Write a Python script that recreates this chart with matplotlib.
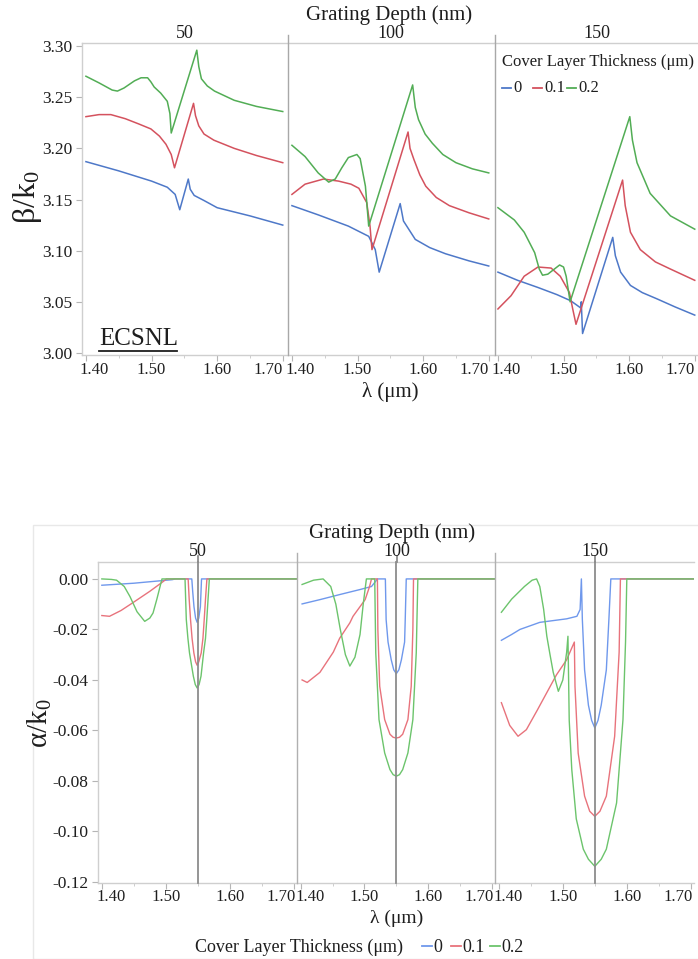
import matplotlib
matplotlib.use("Agg")
import matplotlib.pyplot as plt
from matplotlib.lines import Line2D
from matplotlib.patches import Rectangle
import matplotlib.transforms as mtransforms

plt.rcParams['font.family'] = ['Liberation Serif', 'DejaVu Serif']
plt.rcParams['mathtext.fontset'] = 'custom'
plt.rcParams['mathtext.rm'] = 'Liberation Serif'

W, H = 698, 959

depths = ["50", "100", "150"]
thickness = ["0", "0.1", "0.2"]
xticks = [1.40, 1.50, 1.60, 1.70]
xtick_labels = ["1.40", "1.50", "1.60", "1.70"]
beta_ticks = [3.00, 3.05, 3.10, 3.15, 3.20, 3.25, 3.30]
beta_tick_labels = ["3.00", "3.05", "3.10", "3.15", "3.20", "3.25", "3.30"]
alpha_ticks = [-0.12, -0.10, -0.08, -0.06, -0.04, -0.02, 0.00]
alpha_tick_labels = ["-0.12", "-0.10", "-0.08", "-0.06", "-0.04", "-0.02", "0.00"]

# ---- beta/k0 (top chart), per grating depth, per cover layer thickness (0, 0.1, 0.2)
beta_x = {
    "50": [
        [1.400, 1.450, 1.500, 1.524, 1.536, 1.543, 1.556, 1.559, 1.565, 1.580, 1.600, 1.650, 1.700],
        [1.400, 1.420, 1.438, 1.460, 1.480, 1.499, 1.512, 1.522, 1.530, 1.535, 1.564, 1.567, 1.572,
         1.580, 1.595, 1.626, 1.660, 1.700],
        [1.400, 1.420, 1.440, 1.448, 1.458, 1.474, 1.484, 1.494, 1.499, 1.504, 1.514, 1.524, 1.528,
         1.530, 1.569, 1.572, 1.576, 1.585, 1.596, 1.626, 1.660, 1.700],
    ],
    "100": [
        [1.400, 1.440, 1.486, 1.517, 1.527, 1.533, 1.565, 1.570, 1.588, 1.610, 1.634, 1.670, 1.700],
        [1.400, 1.420, 1.448, 1.471, 1.490, 1.502, 1.514, 1.519, 1.522, 1.577, 1.580, 1.586, 1.595,
         1.604, 1.620, 1.640, 1.670, 1.700],
        [1.400, 1.420, 1.440, 1.456, 1.466, 1.476, 1.486, 1.499, 1.504, 1.512, 1.517, 1.584, 1.588,
         1.593, 1.603, 1.614, 1.630, 1.650, 1.675, 1.700],
    ],
    "150": [
        [1.400, 1.430, 1.461, 1.490, 1.511, 1.524, 1.526, 1.527, 1.529, 1.575, 1.579, 1.587, 1.602,
         1.620, 1.642, 1.670, 1.700],
        [1.400, 1.420, 1.440, 1.461, 1.481, 1.495, 1.509, 1.514, 1.519, 1.590, 1.594, 1.602, 1.617,
         1.640, 1.663, 1.700],
        [1.400, 1.425, 1.440, 1.456, 1.463, 1.468, 1.476, 1.486, 1.494, 1.500, 1.504, 1.510, 1.601,
         1.605, 1.612, 1.632, 1.663, 1.700],
    ],
}
beta_y = {
    "50": [
        [3.187, 3.178, 3.168, 3.162, 3.155, 3.140, 3.170, 3.160, 3.154, 3.149, 3.142, 3.134, 3.125],
        [3.231, 3.233, 3.233, 3.229, 3.224, 3.219, 3.212, 3.204, 3.194, 3.181, 3.244, 3.232, 3.222,
         3.214, 3.208, 3.200, 3.193, 3.186],
        [3.2705, 3.264, 3.257, 3.256, 3.259, 3.266, 3.269, 3.269, 3.265, 3.260, 3.254, 3.246, 3.234,
         3.215, 3.296, 3.280, 3.268, 3.261, 3.256, 3.247, 3.241, 3.236],
    ],
    "100": [
        [3.144, 3.135, 3.124, 3.114, 3.101, 3.079, 3.146, 3.129, 3.111, 3.103, 3.097, 3.090, 3.085],
        [3.155, 3.165, 3.170, 3.168, 3.165, 3.161, 3.147, 3.124, 3.101, 3.216, 3.200, 3.189, 3.174,
         3.163, 3.152, 3.144, 3.137, 3.131],
        [3.203, 3.192, 3.176, 3.167, 3.170, 3.181, 3.191, 3.194, 3.190, 3.163, 3.124, 3.262, 3.240,
         3.228, 3.214, 3.205, 3.194, 3.186, 3.180, 3.176],
    ],
    "150": [
        [3.079, 3.071, 3.064, 3.057, 3.051, 3.045, 3.044, 3.050, 3.019, 3.113, 3.095, 3.079, 3.066,
         3.059, 3.053, 3.045, 3.037],
        [3.043, 3.056, 3.075, 3.084, 3.083, 3.075, 3.059, 3.043, 3.028, 3.169, 3.144, 3.118, 3.101,
         3.089, 3.082, 3.071],
        [3.142, 3.130, 3.118, 3.098, 3.082, 3.076, 3.077, 3.082, 3.086, 3.084, 3.075, 3.050, 3.231,
         3.208, 3.186, 3.156, 3.134, 3.121],
    ],
}

# ---- alpha/k0 (bottom chart)
alpha_x = {
    "50": [
        [1.400, 1.450, 1.510, 1.515, 1.5406, 1.542, 1.544, 1.5465, 1.549, 1.5515, 1.554, 1.555,
         1.5558, 1.705],
        [1.400, 1.412, 1.430, 1.448, 1.475, 1.495, 1.501, 1.5349, 1.5365, 1.5386, 1.541, 1.5438,
         1.5465, 1.549, 1.5515, 1.5553, 1.558, 1.560, 1.562, 1.5642, 1.705],
        [1.400, 1.415, 1.423, 1.435, 1.444, 1.455, 1.467, 1.475, 1.480, 1.486, 1.491, 1.494, 1.530,
         1.531, 1.532, 1.5345, 1.537, 1.543, 1.546, 1.549, 1.552, 1.555, 1.559, 1.562, 1.564,
         1.566, 1.568, 1.705],
    ],
    "100": [
        [1.402, 1.430, 1.461, 1.493, 1.511, 1.518, 1.520, 1.5328, 1.534, 1.537, 1.542, 1.546,
         1.550, 1.554, 1.558, 1.563, 1.564, 1.5656, 1.705],
        [1.402, 1.410, 1.430, 1.451, 1.461, 1.477, 1.482, 1.501, 1.508, 1.511, 1.5203, 1.521,
         1.5239, 1.5317, 1.540, 1.545, 1.550, 1.555, 1.560, 1.5682, 1.5734, 1.576, 1.577, 1.705],
        [1.402, 1.420, 1.435, 1.447, 1.455, 1.462, 1.470, 1.477, 1.485, 1.493, 1.498, 1.503, 1.5161,
         1.5177, 1.5228, 1.5317, 1.540, 1.545, 1.550, 1.555, 1.560, 1.5682, 1.576, 1.5813, 1.5838,
         1.705],
    ],
    "150": [
        [1.404, 1.420, 1.433, 1.464, 1.506, 1.522, 1.527, 1.529, 1.5305, 1.534, 1.540, 1.545, 1.550,
         1.555, 1.560, 1.568, 1.572, 1.575, 1.705],
        [1.404, 1.417, 1.430, 1.443, 1.460, 1.475, 1.490, 1.506, 1.518, 1.519, 1.524, 1.534, 1.542,
         1.550, 1.558, 1.568, 1.581, 1.588, 1.590, 1.705],
        [1.404, 1.420, 1.440, 1.452, 1.459, 1.464, 1.470, 1.475, 1.480, 1.485, 1.493, 1.500, 1.506,
         1.508, 1.510, 1.514, 1.521, 1.532, 1.540, 1.550, 1.560, 1.568, 1.584, 1.594, 1.598, 1.600,
         1.705],
    ],
}
alpha_y = {
    "50": [
        [-0.0025, -0.0017, -0.0003, 0.0, 0.0, -0.005, -0.011, -0.0155, -0.0172, -0.0155, -0.011,
         -0.005, 0.0, 0.0],
        [-0.0145, -0.0148, -0.0125, -0.0095, -0.0049, -0.0012, 0.0, 0.0, -0.008, -0.0161, -0.0235,
         -0.0293, -0.0328, -0.0342, -0.0328, -0.0293, -0.0235, -0.0161, -0.008, 0.0, 0.0],
        [0.0, -0.0002, -0.0005, -0.003, -0.007, -0.013, -0.0168, -0.0155, -0.0135, -0.008, -0.003,
         0.0, 0.0, -0.008, -0.0161, -0.0235, -0.0293, -0.0385, -0.0418, -0.0432, -0.0418, -0.0385,
         -0.0293, -0.0235, -0.0161, -0.008, 0.0, 0.0],
    ],
    "100": [
        [-0.0099, -0.0082, -0.0062, -0.0042, -0.003, -0.0008, 0.0, 0.0, -0.0161, -0.025, -0.032,
         -0.036, -0.0375, -0.036, -0.032, -0.025, -0.0161, 0.0, 0.0],
        [-0.040, -0.041, -0.037, -0.029, -0.0235, -0.0174, -0.0148, -0.0082, -0.003, 0.0, 0.0,
         -0.020, -0.0425, -0.0557, -0.0615, -0.0627, -0.063, -0.0627, -0.0615, -0.0557, -0.0425,
         -0.020, 0.0, 0.0],
        [-0.0022, -0.0005, 0.0, -0.003, -0.010, -0.020, -0.030, -0.0345, -0.031, -0.022, -0.010,
         0.0, 0.0, -0.0293, -0.0557, -0.0689, -0.0755, -0.0775, -0.0781, -0.0775, -0.0755, -0.0689,
         -0.0557, -0.0293, 0.0, 0.0],
    ],
    "150": [
        [-0.0243, -0.022, -0.020, -0.0172, -0.0158, -0.0148, -0.0121, 0.0, -0.016, -0.036, -0.050,
         -0.056, -0.059, -0.056, -0.050, -0.036, -0.016, 0.0, 0.0],
        [-0.049, -0.058, -0.0623, -0.0597, -0.052, -0.045, -0.038, -0.032, -0.025, -0.0425, -0.069,
         -0.086, -0.092, -0.094, -0.092, -0.086, -0.0623, -0.029, 0.0, 0.0],
        [-0.0132, -0.008, -0.003, -0.0005, 0.0, -0.003, -0.012, -0.0227, -0.030, -0.037, -0.0445,
         -0.040, -0.029, -0.0227, -0.056, -0.0755, -0.095, -0.107, -0.111, -0.1138, -0.111, -0.107,
         -0.0887, -0.0557, -0.025, 0.0, 0.0],
    ],
}

top_colors = ['#4e78c8', '#d4525e', '#52ad55']
bot_colors = ['#6f98ec', '#e8737c', '#6cc46c']
txt = '#1e1e1e'
grid_gray = '#cfcfcf'

fig = plt.figure(figsize=(W / 100, H / 100), dpi=100)


def fx(x):
    return x / W


def fy(y):
    return 1 - y / H


def add_panel(x0, x1, y0, y1):
    return fig.add_axes([fx(x0), fy(y1), (x1 - x0) / W, (y1 - y0) / H])


def fig_line(x0, y0, x1, y1, color, lw):
    fig.add_artist(Line2D([fx(x0), fx(x1)], [fy(y0), fy(y1)], transform=fig.transFigure,
                          color=color, lw=lw))


def style_panel(ax, first, xlim, ylim, yticks, ylabels, label_dy, shift_first, shift_last):
    ax.set_xlim(*xlim)
    ax.set_ylim(*ylim)
    ax.spines['right'].set_visible(False)
    ax.spines['left'].set_visible(first)
    for s in ['top', 'bottom', 'left']:
        ax.spines[s].set_color(grid_gray)
        ax.spines[s].set_linewidth(1.0)
    ax.set_xticks(xticks)
    ax.set_xticks([1.45, 1.55, 1.65], minor=True)
    ax.set_xticklabels([])
    ax.tick_params(axis='x', which='major', direction='out', length=4, color='#b5b5b5')
    ax.tick_params(axis='x', which='minor', direction='out', length=2.5, color='#c5c5c5')
    if first:
        ax.set_yticks(yticks)
        ax.set_yticklabels(ylabels)
        ax.tick_params(axis='y', direction='out', length=4, color='#b5b5b5', pad=3,
                       labelsize=12.5, labelcolor=txt)
    else:
        ax.tick_params(axis='y', left=False, labelleft=False)
    # x tick labels, edge labels nudged inward like the original
    for i, (v, s) in enumerate(zip(xticks, xtick_labels)):
        dx = 0
        if i == 0:
            dx = shift_first
        if i == len(xticks) - 1:
            dx = shift_last
        tr = mtransforms.offset_copy(ax.get_xaxis_transform(), fig=fig, x=dx, y=-label_dy,
                                     units='dots')
        ax.text(v, 0, s, transform=tr, ha='center', va='center', fontsize=12, color=txt)


# ================= top chart: beta/k0 =================
top_edges = [82, 288, 494, 700]
for k, d in enumerate(depths):
    ax = add_panel(top_edges[k], top_edges[k + 1], 43, 355)
    for j in range(3):
        ax.plot(beta_x[d][j], beta_y[d][j], color=top_colors[j], lw=1.1)
    style_panel(ax, k == 0, (1.394, 1.708), (2.998, 3.303), beta_ticks, beta_tick_labels,
                15, 8, -15)
    fig.text(fx((top_edges[k] + top_edges[k + 1]) / 2), fy(34), d, ha='center', va='center',
             fontsize=13, color=txt)
for xd in [287.5, 494.5]:
    fig_line(xd, 35, xd, 355, '#a8a8a8', 1.0)

fig.text(fx(389), fy(15), "Grating Depth (nm)", ha='center', va='center', fontsize=15, color=txt)
fig.text(fx(390), fy(392), "λ (μm)", ha='center', va='center', fontsize=15, color=txt)
fig.text(fx(28), fy(197), r"β/$\mathregular{k_0}$", ha='center', va='center', rotation=90,
         fontsize=23, color=txt)
fig.text(fx(99), fy(339), "ECSNL", ha='left', va='center', fontsize=18, color=txt)
fig_line(99, 350.5, 177, 350.5, txt, 1.3)

# legend inside the 150 panel
fig.text(fx(502), fy(62), "Cover Layer Thickness (μm)", ha='left', va='center', fontsize=12,
         color=txt)
leg_top = [(502, 513), (533, 544), (567, 578)]
for j, (lx, tx) in enumerate(leg_top):
    fig_line(lx, 88, lx + 9, 88, top_colors[j], 1.3)
    fig.text(fx(tx), fy(88), thickness[j], ha='left', va='center', fontsize=12, color=txt)

# ================= bottom chart: alpha/k0 =================
fig.add_artist(Rectangle((fx(33), fy(959)), 1, (959 - 525) / H, transform=fig.transFigure,
                         fill=False, edgecolor='#e8e8e8', lw=1.0))
bot_edges = [98, 297, 495, 694]
for k, d in enumerate(depths):
    ax = add_panel(bot_edges[k], bot_edges[k + 1], 562, 883)
    for j in range(3):
        ax.plot(alpha_x[d][j], alpha_y[d][j], color=bot_colors[j], lw=1.0)
    style_panel(ax, k == 0, (1.394, 1.705), (-0.1204, 0.0067), alpha_ticks, alpha_tick_labels,
                14, 9, -13)
    fig.text(fx(bot_edges[k] + 100), fy(552), d, ha='center', va='center', fontsize=13, color=txt)
    # reference line at 1.55 um, drawn in data coords of the panel
    ax.plot([1.55, 1.55], [-0.1204, 0.0067], color='#8c8c8c', lw=1.3, clip_on=False, zorder=3)
    fig_line(bot_edges[k] + (1.55 - 1.394) / 0.311 * 199, 556,
             bot_edges[k] + (1.55 - 1.394) / 0.311 * 199, 562, '#8c8c8c', 1.3)
for xd in [297, 495]:
    fig_line(xd, 553, xd, 883, '#b0b0b0', 1.0)

fig.text(fx(392), fy(533), "Grating Depth (nm)", ha='center', va='center', fontsize=15, color=txt)
fig.text(fx(397), fy(918), "λ (μm)", ha='center', va='center', fontsize=14, color=txt)
fig.text(fx(40), fy(723), r"α/$\mathregular{k_0}$", ha='center', va='center', rotation=90,
         fontsize=21, color=txt)
fig.text(fx(195), fy(947), "Cover Layer Thickness (μm)", ha='left', va='center', fontsize=13,
         color=txt)
leg_bot = [(422, 433), (451, 462), (490, 501)]
for j, (lx, tx) in enumerate(leg_bot):
    fig_line(lx, 946, lx + 10, 946, bot_colors[j], 1.3)
    fig.text(fx(tx), fy(947), thickness[j], ha='left', va='center', fontsize=13, color=txt)

fig.savefig("out.png", dpi=100)
